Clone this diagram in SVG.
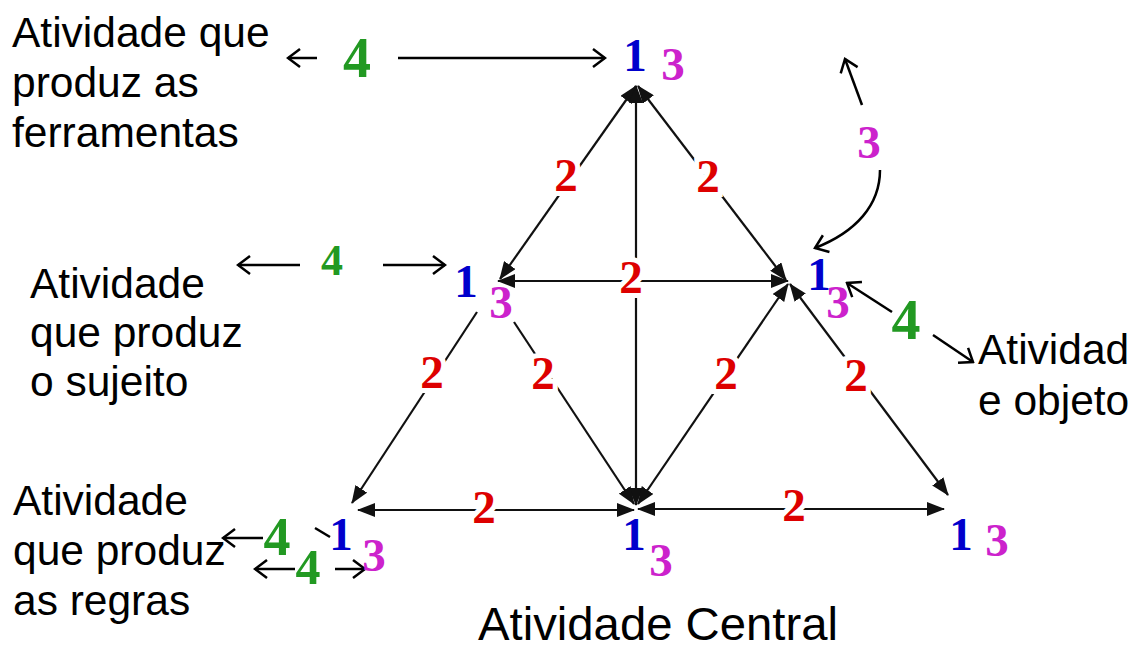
<svg xmlns="http://www.w3.org/2000/svg" width="1134" height="649" viewBox="0 0 1134 649">
<style>
.lbl{font-family:"Liberation Sans",Arial,sans-serif;font-size:42.5px;fill:#000}
.n{font-family:"Liberation Serif","Times New Roman",serif;font-weight:bold;font-size:47px;text-anchor:middle}
.b{fill:#0000cc}
.m{fill:#cc22cc}
.r{fill:#dd0000;stroke:#fff;stroke-width:10px;paint-order:stroke}
.g{fill:#229922}
.e{stroke:#111;stroke-width:2.2;fill:none}
.o{stroke:#000;stroke-width:2.5;fill:none}
</style>
<defs>
<marker id="fa" viewBox="0 0 18 14" refX="17" refY="7" markerWidth="18" markerHeight="14" orient="auto-start-reverse" markerUnits="userSpaceOnUse"><path d="M0,0 L18,7 L0,14 z" fill="#111"/></marker>
<marker id="oa" viewBox="-1 -1 16 22" refX="13" refY="10" markerWidth="16" markerHeight="22" orient="auto-start-reverse" markerUnits="userSpaceOnUse"><path d="M1,1 L13,10 L1,19" fill="none" stroke="#000" stroke-width="2.5"/></marker>
</defs>
<rect width="1134" height="649" fill="#fff"/>
<g id="connectors">
<line class="e" x1="636" y1="86" x2="500" y2="279" marker-start="url(#fa)" marker-end="url(#fa)"/>
<line class="e" x1="638" y1="86" x2="786" y2="280" marker-start="url(#fa)" marker-end="url(#fa)"/>
<line class="e" x1="636" y1="86" x2="636" y2="505" marker-start="url(#fa)" marker-end="url(#fa)"/>
<line class="e" x1="498" y1="281" x2="788" y2="281" marker-start="url(#fa)" marker-end="url(#fa)"/>
<line class="e" x1="477" y1="312" x2="352" y2="503" marker-end="url(#fa)"/>
<line class="e" x1="514" y1="322" x2="634" y2="504" marker-end="url(#fa)"/>
<line class="e" x1="638" y1="504" x2="788" y2="284" marker-start="url(#fa)" marker-end="url(#fa)"/>
<line class="e" x1="790" y1="284" x2="948" y2="495" marker-start="url(#fa)" marker-end="url(#fa)"/>
<line class="e" x1="358" y1="510" x2="634" y2="510" marker-start="url(#fa)" marker-end="url(#fa)"/>
<line class="e" x1="638" y1="509" x2="944" y2="509" marker-start="url(#fa)" marker-end="url(#fa)"/>
<line class="o" x1="317" y1="58" x2="288" y2="58" marker-end="url(#oa)"/>
<line class="o" x1="398" y1="58" x2="605" y2="58" marker-end="url(#oa)"/>
<line class="o" x1="300" y1="265" x2="238" y2="265" marker-end="url(#oa)"/>
<line class="o" x1="383" y1="265" x2="445" y2="265" marker-end="url(#oa)"/>
<line class="o" x1="892" y1="312" x2="847" y2="283" marker-end="url(#oa)"/>
<line class="o" x1="933" y1="335" x2="973" y2="362" marker-end="url(#oa)"/>
<line class="o" x1="862" y1="105" x2="845" y2="59" marker-end="url(#oa)"/>
<path class="o" d="M880,170 C880,205 856,232 815,248" marker-end="url(#oa)"/>
<line class="o" x1="263" y1="538" x2="223" y2="538" marker-end="url(#oa)"/>
<line class="o" x1="295" y1="569" x2="255" y2="569" marker-end="url(#oa)"/>
<line class="o" x1="335" y1="569" x2="365" y2="569" marker-end="url(#oa)"/>
<line class="o" x1="315" y1="528" x2="330" y2="537"/>
</g>
<g id="edge-labels">
<text class="n r" x="566" y="191">2</text>
<text class="n r" x="708" y="192">2</text>
<text class="n r" x="631" y="293">2</text>
<text class="n r" x="432" y="388">2</text>
<text class="n r" x="543" y="389">2</text>
<text class="n r" x="726" y="389">2</text>
<text class="n r" x="856" y="391">2</text>
<text class="n r" x="484" y="523">2</text>
<text class="n r" x="794" y="521">2</text>
</g>
<g id="node-top">
<text class="n b" x="635" y="71">1</text>
<text class="n m" x="673" y="80">3</text>
</g>
<g id="node-mid-left">
<text class="n b" x="466" y="297">1</text>
<text class="n m" x="501" y="318">3</text>
</g>
<g id="node-mid-right">
<text class="n b" x="819" y="290">1</text>
<text class="n m" x="838" y="318">3</text>
</g>
<g id="node-bottom-left">
<text class="n b" x="341" y="550">1</text>
<text class="n m" x="374" y="571">3</text>
</g>
<g id="node-bottom-mid">
<text class="n b" x="634" y="550">1</text>
<text class="n m" x="661" y="576">3</text>
</g>
<g id="node-bottom-right">
<text class="n b" x="961" y="550">1</text>
<text class="n m" x="997" y="556">3</text>
</g>
<g id="outer-labels">
<text class="n g" x="357" y="77" style="font-size:56px">4</text>
<text class="n g" x="332" y="275" style="font-size:44px">4</text>
<text class="n g" x="906" y="339" style="font-size:58px">4</text>
<text class="n g" x="277" y="555" style="font-size:54px">4</text>
<text class="n g" x="308" y="584" style="font-size:50px">4</text>
<text class="n m" x="869" y="158">3</text>
</g>
<g id="label-tools">
<text class="lbl" x="12" y="47">Atividade que</text>
<text class="lbl" x="12" y="97">produz as</text>
<text class="lbl" x="12" y="147">ferramentas</text>
</g>
<g id="label-subject">
<text class="lbl" x="30" y="298">Atividade</text>
<text class="lbl" x="30" y="347">que produz</text>
<text class="lbl" x="30" y="396">o sujeito</text>
</g>
<g id="label-rules">
<text class="lbl" x="13" y="515">Atividade</text>
<text class="lbl" x="13" y="565">que produz</text>
<text class="lbl" x="13" y="615">as regras</text>
</g>
<g id="label-object">
<text class="lbl" x="978" y="364">Atividad</text>
<text class="lbl" x="978" y="415">e objeto</text>
</g>
<g id="label-central">
<text class="lbl" x="478" y="640" style="font-size:46px" textLength="360" lengthAdjust="spacingAndGlyphs">Atividade Central</text>
</g>
</svg>
